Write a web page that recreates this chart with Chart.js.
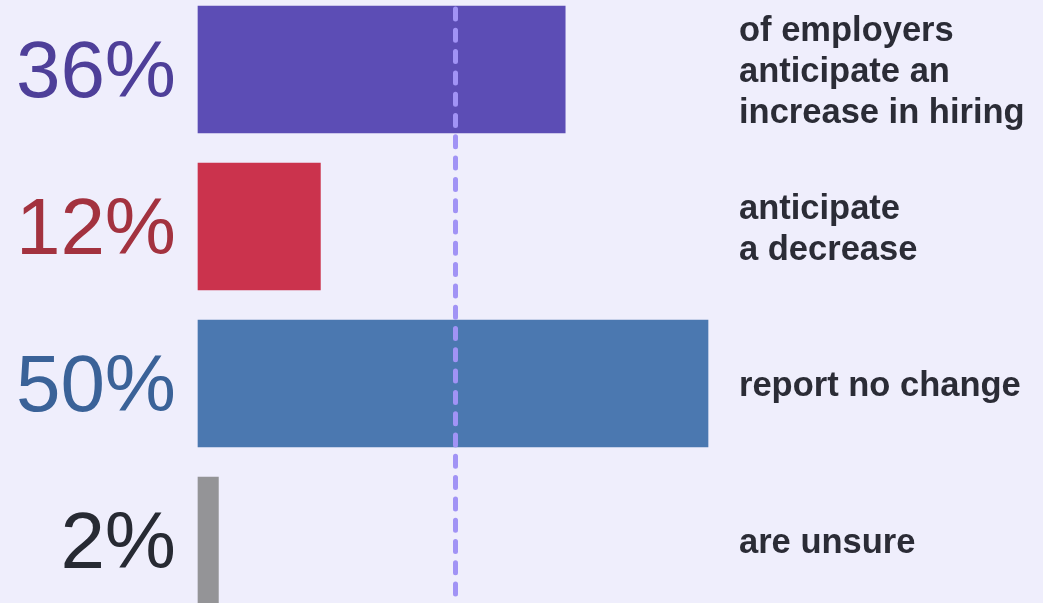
<!DOCTYPE html>
<html>
<head>
    <title>Hiring Outlook</title>
    <script src="https://cdn.jsdelivr.net/npm/chart.js"></script>
    <style>
        html, body {
            margin: 0;
            padding: 0;
            background: #efeefc;
        }
        .wrap {
            width: 1043px;
            height: 603px;
        }
    </style>
</head>
<body>
    <div class="wrap"><canvas id="outlookChart" width="1043" height="603"></canvas></div>
    <script>
        const categories = ['increase', 'decrease', 'no change', 'unsure'];
        const shares = [36, 12, 50, 2];
        const valueLabels = ['36%', '12%', '50%', '2%'];
        const descriptions = [
            ['of employers', 'anticipate an', 'increase in hiring'],
            ['anticipate', 'a decrease'],
            ['report no change'],
            ['are unsure']
        ];
        const barColors = ['#5c4db5', '#cb334d', '#4b78b0', '#949497'];
        const labelColors = ['#4e3f99', '#a3323f', '#3a6298', '#272a33'];
        const referenceValue = 25.2;

        // big percentages on the left, captions on the right, dashed reference line
        const sideText = {
            id: 'sideText',
            afterDatasetsDraw(chart) {
                const ctx = chart.ctx;
                const x = chart.scales.x;
                const y = chart.scales.y;

                ctx.save();
                ctx.strokeStyle = '#a193f5';
                ctx.lineWidth = 5;
                ctx.lineCap = 'round';
                ctx.setLineDash([10, 11.3]);
                const rx = Math.round(x.getPixelForValue(referenceValue)) + 0.5;
                ctx.beginPath();
                ctx.moveTo(rx, 9);
                ctx.lineTo(rx, chart.height + 20);
                ctx.stroke();
                ctx.restore();

                ctx.save();
                categories.forEach((c, i) => {
                    const cy = y.getPixelForValue(i);
                    ctx.font = '80px "Liberation Sans", Arial, sans-serif';
                    ctx.fillStyle = labelColors[i];
                    ctx.textAlign = 'right';
                    ctx.textBaseline = 'middle';
                    ctx.fillText(valueLabels[i], 176, cy + 5);

                    const lines = descriptions[i];
                    const lh = 41;
                    ctx.font = 'bold 34.5px "Liberation Sans", Arial, sans-serif';
                    ctx.fillStyle = '#2b2c36';
                    ctx.textAlign = 'left';
                    lines.forEach((t, j) => {
                        ctx.fillText(t, 739, cy + 3 + (j - (lines.length - 1) / 2) * lh);
                    });
                });
                ctx.restore();
            }
        };

        new Chart(document.getElementById('outlookChart').getContext('2d'), {
            type: 'bar',
            data: {
                labels: categories,
                datasets: [{
                    data: shares,
                    backgroundColor: barColors,
                    barThickness: 127,
                    clip: false
                }]
            },
            options: {
                indexAxis: 'y',
                responsive: false,
                animation: false,
                layout: { padding: { left: 198, right: 335, top: 69.5, bottom: 62.5 } },
                scales: {
                    x: { display: false, min: 0, max: 50 },
                    y: { display: false, offset: false }
                },
                plugins: {
                    legend: { display: false },
                    tooltip: { enabled: false }
                }
            },
            plugins: [sideText]
        });
    </script>
</body>
</html>
